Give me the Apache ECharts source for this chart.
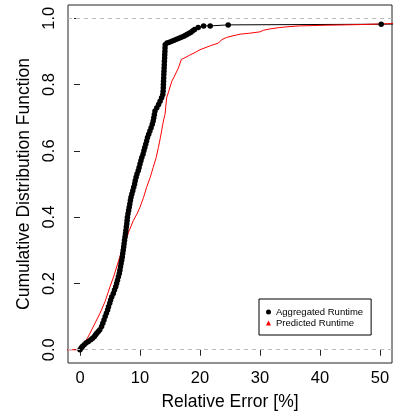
<!DOCTYPE html>
<html>
<head>
<meta charset="utf-8">
<script src="https://cdn.jsdelivr.net/npm/echarts@6/dist/echarts.min.js"></script>
<style>
html,body{margin:0;padding:0;background:#fff;}
#c{width:396px;height:418px;}
</style>
</head>
<body>
<div id="c"></div>
<script>
// Aggregated Runtime CDF (relative error %, cumulative fraction)
const aggX = [0.0,0.2,0.4,0.7,1.0,1.4,1.8,2.1,2.4,2.6,2.8,3.05,3.3,3.6,3.8,4.0,
  4.2,4.4,4.6,4.75,4.95,5.1,5.3,5.55,5.75,5.95,
  6.1,6.25,6.4,6.55,6.65,6.75,6.85,6.95,7.05,7.12,
  7.2,7.28,7.35,7.42,7.5,7.58,7.65,7.72,7.8,7.85,
  7.9,8.0,8.1,8.2,8.3,8.4,8.5,8.65,8.8,8.95,
  9.1,9.2,9.35,9.5,9.7,9.85,10.0,10.15,10.3,10.5,
  10.65,10.8,10.95,11.1,11.25,11.45,11.65,11.85,12.05,12.2,
  12.3,12.4,12.5,12.8,13.1,13.35,13.6,13.8,13.85,13.88,
  13.9,13.92,13.95,13.97,14.0,14.02,14.05,14.07,14.1,14.12,
  14.15,14.17,14.2,14.5,14.9,15.3,15.7,16.1,16.5,16.9,
  17.3,17.6,17.9,18.2,18.5,18.8,19.1,19.7,20.6,21.7,
  24.7,50.2,58.0];
const aggY = [0.000,0.005,0.010,0.015,0.020,0.025,0.030,0.035,0.040,0.045,0.050,0.055,0.060,0.070,0.080,0.090,
  0.100,0.110,0.120,0.130,0.140,0.150,0.160,0.170,0.180,0.190,
  0.200,0.210,0.220,0.230,0.240,0.250,0.260,0.270,0.280,0.290,
  0.300,0.310,0.320,0.330,0.340,0.350,0.360,0.370,0.380,0.390,
  0.400,0.410,0.420,0.430,0.440,0.450,0.460,0.470,0.480,0.490,
  0.500,0.510,0.520,0.530,0.540,0.550,0.560,0.570,0.580,0.590,
  0.600,0.610,0.620,0.630,0.640,0.650,0.660,0.670,0.680,0.690,
  0.700,0.710,0.720,0.730,0.740,0.750,0.760,0.770,0.780,0.790,
  0.800,0.810,0.820,0.830,0.840,0.850,0.860,0.870,0.880,0.890,
  0.900,0.910,0.920,0.925,0.928,0.931,0.934,0.937,0.940,0.943,
  0.946,0.949,0.952,0.955,0.958,0.962,0.966,0.972,0.977,0.977,
  0.980,0.982,0.984];

// Predicted Runtime CDF
const predX = [-5,0,0.8,1.67,2.5,3.33,4.17,5.0,5.6,6.2,
  6.8,7.5,8.1,8.9,9.5,10.0,10.6,11.1,11.7,12.2,
  12.7,13.06,13.4,13.6,13.9,14.17,14.44,14.8,15.3,15.6,
  16.0,16.4,16.9,17.5,18.3,19.2,20.0,21.0,21.7,23.05,
  23.6,24.4,25.5,26.7,28.3,30.0,30.6,31.7,33.3,35.0,
  36.7,41.1,46.7,52.2,56.0];
const predY = [0,0,0.02,0.05,0.08,0.11,0.145,0.19,0.22,0.255,
  0.29,0.32,0.355,0.39,0.41,0.43,0.46,0.49,0.52,0.55,
  0.58,0.61,0.64,0.66,0.69,0.71,0.76,0.78,0.81,0.82,
  0.835,0.85,0.876,0.881,0.889,0.897,0.905,0.912,0.917,0.925,
  0.935,0.942,0.947,0.952,0.955,0.959,0.964,0.968,0.972,0.975,
  0.977,0.979,0.981,0.984,0.985];

const xTicks = [0,10,20,30,40,50];
const yTicks = [0,0.2,0.4,0.6,0.8,1.0];
const refLines = [0,1];

const FONT = 'Liberation Sans, Arial, Helvetica, sans-serif';
const chart = echarts.init(document.getElementById('c'), null, {renderer:'canvas'});
chart.setOption({
  animation:false,
  backgroundColor:'#fff',
  grid:{left:68,right:4,top:5,bottom:55,show:true,borderColor:'#222',borderWidth:1,backgroundColor:'transparent'},
  xAxis:{type:'value',min:-2,max:52,
    axisLine:{show:false},
    splitLine:{show:false},
    axisTick:{show:true,length:6,inside:false,customValues:xTicks,lineStyle:{color:'#222'}},
    axisLabel:{customValues:xTicks,fontSize:16.5,fontFamily:FONT,color:'#000',margin:7},
    name:'Relative Error [%]',nameLocation:'middle',nameGap:30,
    nameTextStyle:{fontSize:17.5,fontFamily:FONT,color:'#000'}
  },
  yAxis:{type:'value',min:-0.04,max:1.04,
    axisLine:{show:false},
    splitLine:{show:false},
    axisTick:{show:true,length:6,inside:false,customValues:yTicks,lineStyle:{color:'#222'}},
    axisLabel:{customValues:yTicks,rotate:90,fontSize:16.5,fontFamily:FONT,color:'#000',margin:10,
      formatter:v=>v.toFixed(1)},
    name:'Cumulative Distribution Function',nameLocation:'middle',nameGap:29,
    nameTextStyle:{fontSize:17.5,fontFamily:FONT,color:'#000'}
  },
  legend:{left:259,top:299,orient:'vertical',selectedMode:false,
    itemWidth:5,itemHeight:5,itemGap:1,padding:[8,8,7,7],
    borderColor:'#000',borderWidth:1,borderRadius:0,backgroundColor:'#fff',
    textStyle:{fontSize:9.5,fontFamily:FONT,color:'#000',lineHeight:10},
    data:[{name:'Aggregated Runtime',icon:'circle'},{name:'Predicted Runtime',icon:'triangle'}]
  },
  series:[
    {type:'line',name:'_ref',data:[],silent:true,
      markLine:{silent:true,symbol:['none','none'],label:{show:false},
        lineStyle:{color:'#bbbbbb',type:[4,4],width:1},
        data:refLines.map(v=>({yAxis:v}))}},
    {type:'line',name:'Aggregated Runtime',data:aggX.map((x,i)=>[x,aggY[i]]),
      symbol:'circle',symbolSize:5.5,showSymbol:true,showAllSymbol:true,
      itemStyle:{color:'#000'},lineStyle:{color:'#000',width:1},clip:true},
    {type:'line',name:'Predicted Runtime',data:predX.map((x,i)=>[x,predY[i]]),
      showSymbol:false,symbol:'triangle',
      itemStyle:{color:'#ff0000'},lineStyle:{color:'#ff0000',width:1},clip:true}
  ]
});
</script>
</body>
</html>
